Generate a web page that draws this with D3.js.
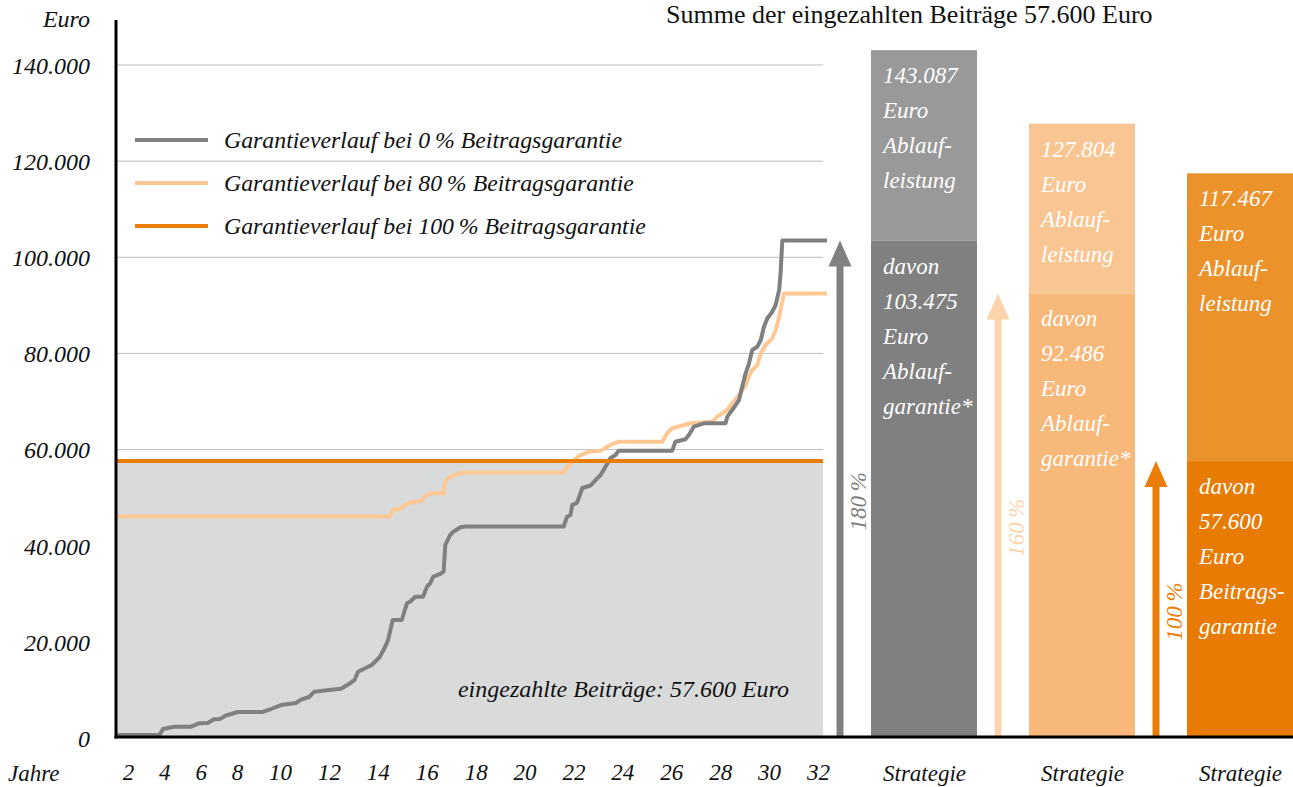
<!DOCTYPE html>
<html>
<head>
<meta charset="utf-8">
<script src="https://cdn.jsdelivr.net/npm/d3@7"></script>
<style>
  html, body { margin: 0; padding: 0; background: #fff; }
  svg { display: block; }
</style>
</head>
<body>
<svg id="chart" width="1293" height="787"></svg>
<script>
// ---------------- DATA ----------------
const xTicks = [2, 4, 6, 8, 10, 12, 14, 16, 18, 20, 22, 24, 26, 28, 30, 32];
const yTicks = [0, 20000, 40000, 60000, 80000, 100000, 120000, 140000];

// Garantieverlauf bei 0 % Beitragsgarantie (grey)
const grayYears = [1.34, 3.72, 3.93, 4.53, 5.47, 5.91, 6.39, 6.73, 7.06, 7.39, 8.03, 9.20, 9.58, 10.04, 10.65, 10.86, 11.19, 11.40, 12.00, 12.49, 12.82, 13.05, 13.19, 13.75, 14.09, 14.30, 14.42, 14.61, 14.98, 15.19, 15.32, 15.53, 15.85, 16.01, 16.14, 16.27, 16.55, 16.69, 16.76, 16.96, 17.09, 17.38, 17.58, 21.60, 21.74, 21.88, 21.95, 22.15, 22.36, 22.70, 22.97, 23.11, 23.31, 23.51, 23.72, 23.85, 26.04, 26.17, 26.58, 26.72, 26.92, 27.33, 28.22, 28.29, 28.49, 28.77, 28.90, 29.04, 29.18, 29.31, 29.52, 29.66, 29.79, 29.93, 30.13, 30.27, 30.41, 30.47, 30.54, 32.37];
const grayValues = [600, 600, 1870, 2350, 2350, 3060, 3120, 3890, 3950, 4680, 5410, 5410, 6030, 6860, 7280, 7970, 8530, 9630, 9990, 10260, 11230, 12070, 13790, 15190, 16910, 18990, 20390, 24550, 24550, 28020, 28350, 29390, 29390, 31470, 32180, 33560, 34120, 34600, 40150, 42230, 42920, 43830, 44000, 44000, 46040, 46390, 48470, 48950, 52010, 52530, 54020, 54710, 56440, 58190, 58870, 59770, 59770, 61640, 62140, 63030, 64760, 65470, 65470, 66840, 68230, 70310, 73080, 75870, 77950, 80720, 81400, 82800, 85560, 87310, 88680, 90080, 93200, 96670, 103475, 103475];

// Garantieverlauf bei 80 % Beitragsgarantie (light orange)
const peachYears = [1.34, 14.50, 14.63, 14.90, 15.11, 15.32, 15.44, 15.79, 15.93, 16.20, 16.68, 16.76, 16.96, 17.23, 17.50, 21.60, 21.81, 22.01, 22.22, 22.63, 23.11, 23.51, 23.85, 25.63, 25.83, 26.04, 26.38, 26.79, 27.68, 27.88, 28.29, 28.49, 28.83, 29.04, 29.17, 29.31, 29.52, 29.66, 29.86, 30.13, 30.27, 30.41, 30.61, 32.37];
const peachValues = [46080, 46080, 47580, 47580, 48470, 48950, 49100, 49300, 50340, 50900, 50900, 53320, 54360, 54860, 55230, 55230, 56790, 57690, 58660, 59560, 59770, 60950, 61640, 61640, 63390, 64430, 64910, 65470, 65800, 66840, 68230, 69630, 71710, 73430, 75160, 76560, 77590, 80030, 81750, 83150, 84880, 87640, 92486, 92486];

// Garantieverlauf bei 100 % Beitragsgarantie (orange) = eingezahlte Beiträge
const fullYears = [1.34, 32.2];
const fullValues = [57600, 57600];
const paidIn = 57600;

const legendLabels = [
  "Garantieverlauf bei 0\u2009% Beitragsgarantie",
  "Garantieverlauf bei 80\u2009% Beitragsgarantie",
  "Garantieverlauf bei 100\u2009% Beitragsgarantie"
];

// Strategy bars
const strategyKeys = ["s0", "s80", "s100"];
const strategyLabels = ["Strategie", "Strategie", "Strategie"];
const totalValues = [143087, 127804, 117467];
const guaranteeValues = [103475, 92486, 57600];
const percentLabels = ["180\u2009%", "160\u2009%", "100\u2009%"];
const topTexts = [
  ["143.087", "Euro", "Ablauf-", "leistung"],
  ["127.804", "Euro", "Ablauf-", "leistung"],
  ["117.467", "Euro", "Ablauf-", "leistung"]
];
const bottomTexts = [
  ["davon", "103.475", "Euro", "Ablauf-", "garantie*"],
  ["davon", "92.486", "Euro", "Ablauf-", "garantie*"],
  ["davon", "57.600", "Euro", "Beitrags-", "garantie"]
];

// ---------------- STYLE ----------------
const FONT = "'Liberation Serif', 'Times New Roman', serif";
const cGray = "#808080", cGrayLight = "#999999";
const cPeach = "#fdc894", cPeachTop = "#f9c592", cPeachBottom = "#f7b879", cPeachArrow = "#fdd4aa";
const cOrange = "#e97d05", cOrangeTop = "#ec922b", cOrangeBottom = "#e87b03";
const lineColors = [cGray, cPeach, cOrange];
const topColors = [cGrayLight, cPeachTop, cOrangeTop];
const bottomColors = [cGray, cPeachBottom, cOrangeBottom];
const arrowColors = [cGray, cPeachArrow, cOrange];

function italic(sel, size, color) {
  return sel.style("font-family", FONT).style("font-style", "italic")
    .style("font-size", size + "px").style("fill", color);
}

// ---------------- SCALES ----------------
const svg = d3.select("#chart");
const x = d3.scaleLinear().domain([2, 8, 10, 32]).range([128, 237, 280, 818]);
const y = d3.scaleLinear().domain([0, 140000]).range([738, 65]);
const xStart = 1.34, xEnd = 32.2;
const xb = d3.scaleBand().domain(strategyKeys).range([871, 1293]).paddingInner(52 / 158).paddingOuter(0);

const de = d3.formatLocale({decimal: ",", thousands: ".", grouping: [3], currency: ["", " €"]});
const fmt = de.format(",d");

// gridlines
svg.append("g").selectAll("line").data(yTicks.filter(d => d > 0)).join("line")
  .attr("x1", x(xStart)).attr("x2", x(xEnd))
  .attr("y1", d => y(d)).attr("y2", d => y(d))
  .attr("stroke", "#bdbdbd").attr("stroke-width", 1);

// paid-in area
svg.append("rect")
  .attr("x", x(xStart)).attr("width", x(xEnd) - x(xStart))
  .attr("y", y(paidIn)).attr("height", y(0) - y(paidIn))
  .attr("fill", "#d9dada");

italic(svg.append("text").attr("x", 789).attr("y", 697).attr("text-anchor", "end"), 24, "#111")
  .text("eingezahlte Beiträge: 57.600 Euro");

// lines
const line = d3.line().x(d => x(d[0])).y(d => y(d[1]));
const seriesData = [
  d3.zip(grayYears, grayValues),
  d3.zip(peachYears, peachValues),
  d3.zip(fullYears, fullValues)
];
[1, 0, 2].forEach(i => {
  svg.append("path").datum(seriesData[i])
    .attr("d", line).attr("fill", "none")
    .attr("stroke", lineColors[i]).attr("stroke-width", 4)
    .attr("stroke-linejoin", "round");
});

// legend
const leg = svg.append("g").selectAll("g").data(legendLabels).join("g")
  .attr("transform", (d, i) => `translate(135, ${140 + i * 43})`);
leg.append("line").attr("x1", 0).attr("x2", 73).attr("y1", 0).attr("y2", 0)
  .attr("stroke", (d, i) => lineColors[i]).attr("stroke-width", 4);
italic(leg.append("text").attr("x", 89).attr("y", 8), 23.8, "#111").text(d => d);

// y axis labels
const yAxis = svg.append("g").attr("transform", "translate(116,0)")
  .call(d3.axisLeft(y).tickValues(yTicks).tickSize(0).tickPadding(26).tickFormat(fmt));
yAxis.select(".domain").remove();
italic(yAxis.selectAll("text"), 24, "#111").attr("dy", "0.35em");

italic(svg.append("text").attr("x", 90).attr("y", 27).attr("text-anchor", "end"), 24, "#111").text("Euro");

// x axis labels
const xAxis = svg.append("g").attr("transform", "translate(0,737)")
  .call(d3.axisBottom(x).tickValues(xTicks).tickSize(0).tickPadding(27).tickFormat(d => d));
xAxis.select(".domain").remove();
italic(xAxis.selectAll("text"), 23, "#111").attr("dy", "0.71em");

italic(svg.append("text").attr("x", 8).attr("y", 781), 23, "#111").text("Jahre");

// bars
const bars = svg.append("g").selectAll("g").data(strategyKeys).join("g");
bars.append("rect")
  .attr("x", d => xb(d)).attr("width", xb.bandwidth())
  .attr("y", (d, i) => y(totalValues[i])).attr("height", (d, i) => y(guaranteeValues[i]) - y(totalValues[i]))
  .attr("fill", (d, i) => topColors[i]);
bars.append("rect")
  .attr("x", d => xb(d)).attr("width", xb.bandwidth())
  .attr("y", (d, i) => y(guaranteeValues[i])).attr("height", (d, i) => y(0) - y(guaranteeValues[i]))
  .attr("fill", (d, i) => bottomColors[i]);

bars.each(function(d, i) {
  const g = d3.select(this);
  const bx = xb(d) + 12;
  topTexts[i].forEach((t, j) => {
    italic(g.append("text").attr("x", bx).attr("y", y(totalValues[i]) + 33 + j * 35), 23, "#fff").text(t);
  });
  bottomTexts[i].forEach((t, j) => {
    italic(g.append("text").attr("x", bx).attr("y", y(guaranteeValues[i]) + 33 + j * 35), 23, "#fff").text(t);
  });
  // arrow
  const ax = xb(d) - 31;
  const tip = y(guaranteeValues[i]);
  g.append("rect").attr("x", ax - 3.5).attr("width", 7).attr("y", tip + 20).attr("height", y(0) - tip - 20)
    .attr("fill", arrowColors[i]);
  g.append("path").attr("d", `M${ax},${tip} L${ax + 11.5},${tip + 26} L${ax - 11.5},${tip + 26} Z`)
    .attr("fill", arrowColors[i]);
  const cy = (tip + y(0)) / 2 + 12;
  italic(g.append("text").attr("transform", `translate(${ax + 18},${cy}) rotate(-90)`)
    .attr("text-anchor", "middle").attr("dy", "0.35em"), 23, arrowColors[i])
    .text(percentLabels[i]);
  // category label
  italic(g.append("text").attr("x", xb(d) + 12).attr("y", 781), 23, "#111").text(strategyLabels[i]);
});

// axis lines
svg.append("line").attr("x1", 116).attr("x2", 116).attr("y1", 20).attr("y2", 738.5)
  .attr("stroke", "#000").attr("stroke-width", 3);
svg.append("line").attr("x1", 114.5).attr("x2", 1293).attr("y1", 737).attr("y2", 737)
  .attr("stroke", "#000").attr("stroke-width", 3);

// title
svg.append("text").attr("x", 666).attr("y", 23)
  .style("font-family", FONT).style("font-size", "26px").style("fill", "#111")
  .text("Summe der eingezahlten Beiträge 57.600 Euro");
</script>
</body>
</html>
